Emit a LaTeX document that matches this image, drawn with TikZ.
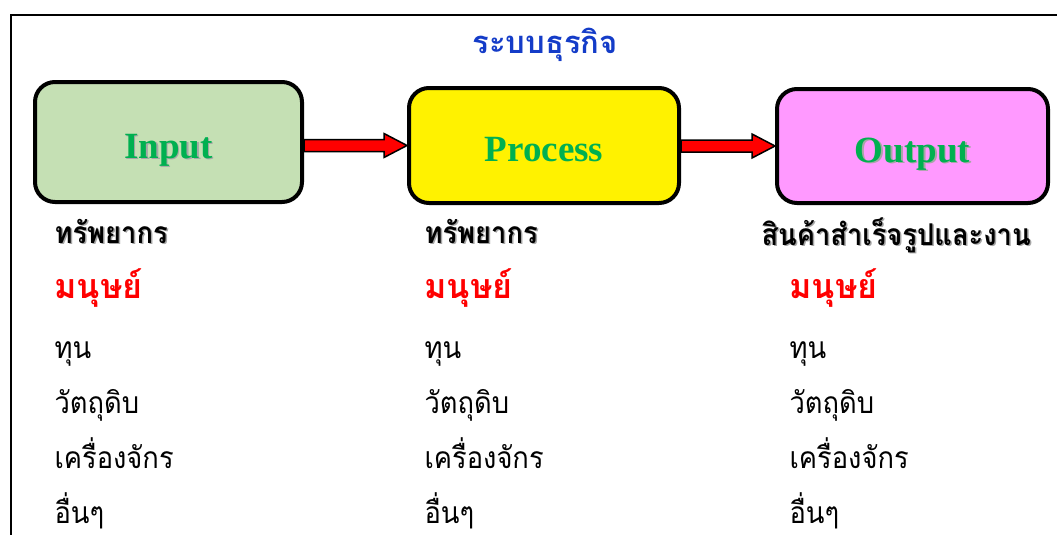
\documentclass[tikz,border=0pt]{standalone}
\usepackage{fontspec}
\setmainfont{Liberation Serif}
\newfontfamily\thai[Script=Thai]{Loma}
\newfontfamily\thainarrow[Script=Thai, FakeStretch=0.91]{Loma}
\usetikzlibrary{positioning, calc}
\definecolor{inputgreen}{RGB}{197,224,180}
\definecolor{outputpink}{RGB}{255,153,255}
\definecolor{labelgreen}{RGB}{0,176,80}
\definecolor{titleblue}{RGB}{20,60,200}
% text with a soft grey shadow
\newcommand\shadowed[1]{\makebox[0pt][l]{\hspace{1.5pt}\raisebox{-1.5pt}{\textcolor{black!35}{#1}}}#1}
% red block arrow from node #1 to node #2
\newcommand\blockarrow[2]{%
  \draw[blockarrow] ($(#1.east |- #2.west)+(0,-6)$) -- ($(#2.west)+(-23,-6)$)
    -- ($(#2.west)+(-23,-12)$) -- (#2.west) -- ($(#2.west)+(-23,12)$)
    -- ($(#2.west)+(-23,6)$) -- ($(#1.east |- #2.west)+(0,6)$) -- cycle;}
\tikzset{
  stage/.style = {draw, line width=4pt, rounded corners=20pt, text=labelgreen,
    font=\bfseries\fontsize{37}{40}\selectfont, text height=32pt, text depth=0pt},
  blockarrow/.style = {draw=black, fill=red, line width=1.5pt, line join=miter},
  head/.style = {anchor=base west, font=\thainarrow\bfseries\fontsize{30}{32}\selectfont},
  human/.style = {anchor=base west, text=red, font=\thai\bfseries\fontsize{34}{36}\selectfont},
  item/.style = {anchor=base west, font=\thainarrow\fontsize{30}{32}\selectfont},
}
\begin{document}
\begin{tikzpicture}[x=1pt, y=-1pt]
\useasboundingbox (0,0) rectangle (1057,535);
\draw[line width=2pt] (11,545) -- (11,15) -- (1070,15); % frame
\node[anchor=base, text=titleblue, font=\thai\bfseries\fontsize{31}{33}\selectfont] (title) at (545,54) {ระบบธุรกิจ};

\node[stage, fill=inputgreen, minimum width=267pt, minimum height=120pt] (input) at (168.5,142) {\shadowed{Input}};
\node[stage, fill=yellow, minimum width=270pt, minimum height=115pt] (process) at (544,145.5) {Process};
\node[stage, fill=outputpink, minimum width=271pt, minimum height=114pt] (output) at (912.5,146) {\shadowed{Output}};
\blockarrow{input}{process}
\blockarrow{process}{output}

% columns
\node[head, text=black] (inhead) at (51,243) {\shadowed{ทรัพยากร}};
\node[head, text=black] (prochead) at (421,243) {\shadowed{ทรัพยากร}};
\node[head, text=black] (outhead) at (758,245) {\shadowed{สินค้าสำเร็จรูปและงาน}};
\foreach \col/\x in {in/51, proc/421, out/786} {
  \node[human] (\col man) at (\x,298) {มนุษย์};
  \foreach \word/\y [count=\i] in {ทุน/358, วัตถุดิบ/413, เครื่องจักร/468, อื่นๆ/523}
    \node[item] (\col\i) at (\x,\y) {\word};
}
\end{tikzpicture}
\end{document}
